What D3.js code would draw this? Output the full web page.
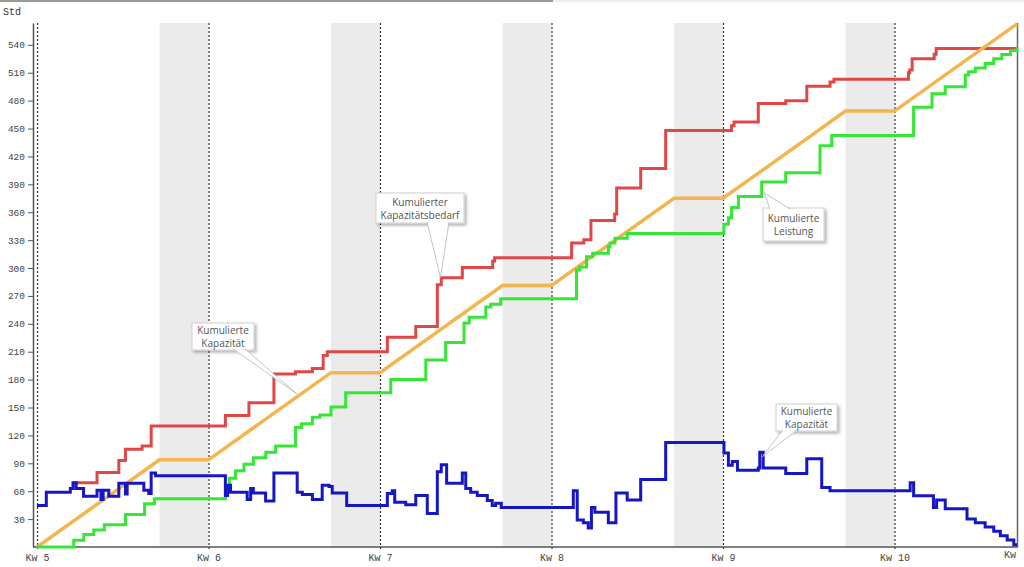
<!DOCTYPE html>
<html>
<head>
<meta charset="utf-8">
<script src="https://cdn.jsdelivr.net/npm/d3@7"></script>
<style>
  body { margin: 0; background: #fff; }
  text { font-family: "Liberation Mono", "DejaVu Sans Mono", monospace; }
  .callout text { font-family: "Open Sans", "Noto Sans", sans-serif; }
</style>
</head>
<body>
<div id="chart"></div>
<script>

//config var and add svg
var WD = 1024, HT = 567
var margin = { left: 33, right: 7, top: 23, bottom: 20 }

// week labels (x = day since start of Kw 5)
var weekDays = [0, 7, 14, 21, 28, 35]
var weekLabels = ["Kw 5", "Kw 6", "Kw 7", "Kw 8", "Kw 9", "Kw 10"]
var weekendStarts = [5, 12, 19, 26, 33]
var yTicks = [30, 60, 90, 120, 150, 180, 210, 240, 270, 300, 330, 360, 390, 420, 450, 480, 510, 540]

// Kumulierte Kapazität (orange), [day, hours]
var kapazitaetKum = [[0, 0], [5, 93.75], [7, 93.75], [12, 187.5], [14, 187.5], [19, 281.25], [21, 281.25],
  [26, 375], [28, 375], [33, 468.75], [35, 468.75], [40, 562.5]]

// Kumulierter Kapazitätsbedarf (red), steps [day, hours]
var bedarfKum = [[1.55, 69], [2.45, 80], [3.34, 93], [3.61, 105], [4.29, 108.5], [4.66, 130], [7.69, 141.5],
  [8.65, 155], [9.67, 186], [10.55, 188.5], [11.24, 192], [11.68, 206], [11.85, 210], [14.3, 225.5],
  [15.46, 237], [16.34, 282], [16.5, 289.5], [17.36, 300.5], [18.6, 307.5], [18.68, 311], [21.82, 327],
  [22.32, 330.5], [22.61, 351], [23.58, 358], [23.66, 386], [24.64, 407], [25.66, 448], [28.35, 453],
  [28.45, 457], [29.44, 477], [30.56, 480], [31.42, 495.5], [32.37, 500], [32.53, 503], [35.57, 510],
  [35.62, 513], [35.72, 525], [36.62, 530], [36.7, 536], [40, 536]]

// Kumulierte Leistung (green), steps [day, hours]
var leistungKum = [[0, 0], [1.5, 7.3], [1.91, 13.5], [2.32, 18.3], [2.75, 24], [3.61, 35], [4.39, 46.5],
  [4.79, 52], [7.62, 52], [7.69, 66], [7.85, 74], [8.1, 82], [8.45, 89], [8.83, 96], [9.34, 102],
  [9.74, 108.5], [10.55, 128.5], [10.8, 132.5], [11.24, 139.5], [11.55, 142], [12.0, 150.5], [12.6, 166],
  [14.44, 180], [15.87, 201], [16.68, 220], [17.43, 241], [17.64, 247], [18.32, 258], [18.52, 261],
  [18.93, 267], [22.02, 298], [22.15, 301], [22.43, 312], [22.68, 316], [23.32, 323], [23.39, 327],
  [23.59, 332], [24.09, 337], [28.04, 347], [28.22, 354], [28.35, 365], [28.63, 377], [29.58, 392.5],
  [30.56, 402.5], [31.96, 431.5], [32.44, 442.5], [35.78, 473], [36.53, 487.5], [37.07, 495], [37.89, 507.5],
  [38.02, 511], [38.3, 515], [38.7, 520], [39.05, 525], [39.38, 529.5], [39.73, 534], [40, 537.5]]

// Kapazität (blue), steps [day, hours]
var kapazitaet = [[0, 44.5], [0.38, 59], [1.36, 63], [1.47, 69], [1.6, 63], [1.9, 54.5], [2.45, 61],
  [2.61, 51], [2.7, 61], [2.93, 54.5], [3.34, 68.5], [3.61, 57], [3.68, 68.5], [4.36, 61], [4.56, 57.5],
  [4.66, 79.5], [4.84, 76.5], [7.69, 55.5], [7.78, 66.5], [7.9, 59], [8.44, 59], [8.58, 51], [8.72, 63],
  [8.83, 58], [9.33, 49.5], [9.67, 79.5], [10.62, 59], [10.83, 56.5], [11.24, 51], [11.64, 66.5],
  [11.92, 65], [12.05, 58], [12.64, 44.5], [14.3, 57.5], [14.5, 60.5], [14.6, 48], [15.05, 45.5],
  [15.46, 55.5], [15.93, 36], [16.34, 81], [16.5, 88.5], [16.72, 68.5], [17.36, 79.5], [17.5, 63],
  [17.7, 59], [17.97, 55.5], [18.38, 50], [18.58, 44.5], [18.72, 47], [18.95, 42.5], [21.89, 60.5],
  [22.05, 29], [22.3, 26], [22.5, 20.5], [22.63, 42.5], [22.77, 37.5], [23.32, 26], [23.63, 58],
  [24.09, 50.5], [24.64, 72.5], [25.66, 112.5], [28.04, 101], [28.22, 88], [28.38, 92], [28.59, 82.5],
  [29.44, 85], [29.5, 102], [29.64, 85], [30.56, 79], [31.42, 95], [32.03, 64], [32.37, 60.5],
  [35.64, 69], [35.78, 55], [36.59, 42.5], [36.72, 50.5], [37.07, 41], [37.96, 30], [38.3, 26],
  [38.7, 21.5], [39.05, 17], [39.32, 12], [39.6, 7.5], [39.87, 2.5], [40, 2.5]]

var svg = d3.select("#chart")
  .append("svg")
    .attr("width", WD)
    .attr("height", HT)

var x = d3.scaleLinear().domain([0, 40]).range([37, 1017])
var y = d3.scaleLinear().domain([0, 563.5]).range([547, margin.top])

// drop shadow for callouts
var filt = svg.append("defs").append("filter").attr("id", "shadow")
  .attr("x", "-20%").attr("y", "-20%").attr("width", "150%").attr("height", "160%")
filt.append("feDropShadow").attr("dx", 2).attr("dy", 2).attr("stdDeviation", 1.5)
  .attr("flood-color", "#000").attr("flood-opacity", 0.3)

// top frame bits of the screenshot
svg.append("line").attr("x1", 0).attr("x2", 553).attr("y1", 1).attr("y2", 1)
  .attr("stroke", "#9a9a9a").attr("stroke-width", 2)
svg.append("line").attr("x1", 553).attr("x2", WD).attr("y1", 1).attr("y2", 1)
  .attr("stroke", "#eeeeee").attr("stroke-width", 2)

svg.append("text").attr("x", 3).attr("y", 15).text("Std")
  .style("font-size", "10px").attr("fill", "#333")

// weekend bands
svg.selectAll(".weekend")
  .data(weekendStarts)
  .enter().append("rect")
    .attr("class", "weekend")
    .attr("x", function(d) { return x(d) })
    .attr("width", function(d) { return x(d + 2) - x(d) })
    .attr("y", margin.top)
    .attr("height", 547 - margin.top)
    .attr("fill", "#ebebeb")

// week lines (dotted)
svg.selectAll(".week")
  .data(weekDays)
  .enter().append("line")
    .attr("class", "week")
    .attr("x1", function(d) { return x(d) + 0.5 })
    .attr("x2", function(d) { return x(d) + 0.5 })
    .attr("y1", margin.top)
    .attr("y2", 551)
    .attr("stroke", "#333")
    .attr("stroke-width", 1.2)
    .attr("stroke-dasharray", "2,2")

// right frame
svg.append("line").attr("x1", 1017.5).attr("x2", 1017.5).attr("y1", margin.top).attr("y2", 547)
  .attr("stroke", "#666").attr("stroke-width", 1.5)

// axes
var yAxis = svg.append("g")
  .attr("transform", "translate(33,0)")
  .call(d3.axisLeft(y).tickValues(yTicks).tickSize(5).tickSizeOuter(0).tickPadding(3))
yAxis.select(".domain").attr("stroke", "#555").attr("stroke-width", 1.5)
yAxis.selectAll(".tick line").attr("stroke", "#555")
yAxis.selectAll(".tick text").attr("fill", "#444").style("font-size", "9.5px")
  .style("font-family", "'Liberation Mono', monospace")

var xAxis = svg.append("g")
  .attr("transform", "translate(0,547)")
  .call(d3.axisBottom(x).tickValues(weekDays).tickSize(0).tickPadding(7)
    .tickFormat(function(d, i) { return weekLabels[i] }))
xAxis.select(".domain").remove()
xAxis.selectAll(".tick text").attr("fill", "#444").style("font-size", "10px")
  .style("font-family", "'Liberation Mono', monospace")
svg.append("text").attr("x", 1004).attr("y", 558).text("Kw")
  .style("font-size", "10px").attr("fill", "#444")

svg.append("line").attr("x1", 33).attr("x2", 1018).attr("y1", 547).attr("y2", 547)
  .attr("stroke", "#555").attr("stroke-width", 1.5)

// series
var stepLine = d3.line()
  .x(function(d) { return x(d[0]) })
  .y(function(d) { return y(d[1]) })
  .curve(d3.curveStepAfter)
var straightLine = d3.line()
  .x(function(d) { return x(d[0]) })
  .y(function(d) { return y(d[1]) })

svg.append("path").datum(bedarfKum).attr("d", stepLine)
  .attr("fill", "none").attr("stroke", "#e04848").attr("stroke-width", 3)
svg.append("path").datum(kapazitaetKum).attr("d", straightLine)
  .attr("fill", "none").attr("stroke", "#f3b550").attr("stroke-width", 3.5)
svg.append("path").datum(leistungKum).attr("d", stepLine)
  .attr("fill", "none").attr("stroke", "#36e636").attr("stroke-width", 3)
svg.append("path").datum(kapazitaet).attr("d", stepLine)
  .attr("fill", "none").attr("stroke", "#1616c4").attr("stroke-width", 3)

// callouts: box [x, y, w, h], wedge base on box edge, tip in data units
var callouts = [
  { lines: ["Kumulierte", "Kapazität"], box: [192, 323, 62, 27], base: [233, 245, "bottom"], tip: [10.61, 164.6] },
  { lines: ["Kumulierter", "Kapazitätsbedarf"], box: [376, 193, 88, 30], base: [427, 449, "bottom"], tip: [16.47, 290] },
  { lines: ["Kumulierte", "Leistung"], box: [763, 208, 61, 33], base: [770, 790, "top"], tip: [29.67, 381] },
  { lines: ["Kumulierte", "Kapazität"], box: [776, 404, 61, 27], base: [783, 797, "bottom"], tip: [29.6, 97] }
]

var cg = svg.selectAll(".callout")
  .data(callouts)
  .enter().append("g")
    .attr("class", "callout")

cg.append("rect")
  .attr("x", function(d) { return d.box[0] })
  .attr("y", function(d) { return d.box[1] })
  .attr("width", function(d) { return d.box[2] })
  .attr("height", function(d) { return d.box[3] })
  .attr("fill", "#fff")
  .attr("stroke", "#cfcfcf")
  .attr("filter", "url(#shadow)")

cg.append("path")
  .attr("d", function(d) {
    var by = d.base[2] == "bottom" ? d.box[1] + d.box[3] - 1 : d.box[1] + 1
    return "M" + d.base[0] + "," + by + "L" + x(d.tip[0]) + "," + y(d.tip[1]) + "L" + d.base[1] + "," + by
  })
  .attr("fill", "#fff")
  .attr("stroke", "#b5b5b5")
  .attr("stroke-width", 0.8)

cg.each(function(d) {
  var g = d3.select(this)
  var cx = d.box[0] + d.box[2] / 2
  var top = d.box[1] + (d.box[3] - 26) / 2
  d.lines.forEach(function(t, i) {
    g.append("text")
      .attr("x", cx)
      .attr("y", top + 10.5 + i * 13)
      .attr("text-anchor", "middle")
      .attr("fill", "#555")
      .style("font-size", "10px")
      .text(t)
  })
})

</script>
</body>
</html>
